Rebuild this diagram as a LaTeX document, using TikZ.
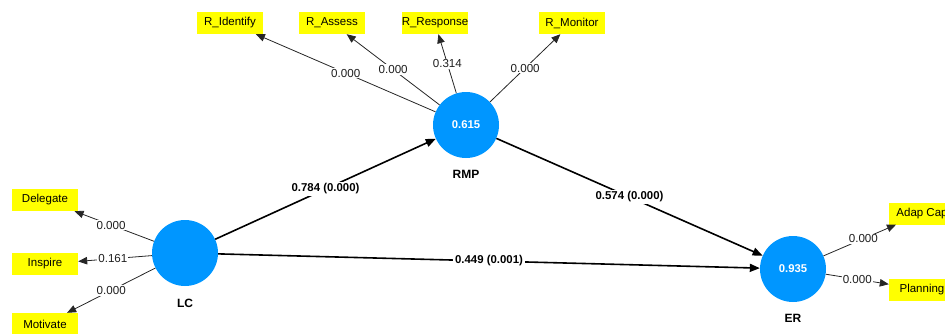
\documentclass[tikz,border=0pt]{standalone}
\usepackage{fontspec}
\setmainfont{Liberation Sans}
\usepackage{tikz}
\usetikzlibrary{positioning,arrows.meta}

\definecolor{lvblue}{RGB}{0,150,255}
\definecolor{mvyellow}{RGB}{255,255,0}
\definecolor{wttext}{RGB}{30,30,30}

\tikzset{
  lv/.style={circle, fill=lvblue, minimum size=66pt, inner sep=0pt, text=white,
    font=\fontsize{11.3}{13}\selectfont\bfseries},
  mv/.style={rectangle, fill=mvyellow, minimum width=66pt, minimum height=22pt,
    inner sep=0pt, font=\fontsize{11.5}{13}\selectfont},
  lvname/.style={inner sep=0pt, font=\fontsize{12}{14}\selectfont\bfseries},
  loadpath/.style={draw=black!85, line width=0.8pt, -{Triangle[length=9pt,width=7.5pt]}},
  structpath/.style={draw=black, line width=1.6pt, -{Triangle[length=10pt,width=8pt]}},
  wt/.style={fill=white, inner sep=1pt, text=wttext, font=\fontsize{11.6}{13}\selectfont},
  coef/.style={fill=white, inner sep=2pt, font=\fontsize{11.4}{13}\selectfont\bfseries},
}

\begin{document}
\begin{tikzpicture}[x=1pt, y=-1pt]
    \useasboundingbox (0,0) rectangle (945,333);
    \clip (0,0) rectangle (945,333);

    % constructs
    \node[lv] (rmp) at (466,125) {0.615};
    \node[lv] (lc) at (185,253) {};
    \node[lv] (er) at (793,269) {0.935};
    \node[lvname, below=12pt of rmp] (rmpname) {RMP};
    \node[lvname, below=13pt of lc] (lcname) {LC};
    \node[lvname, below=12pt of er] (ername) {ER};

    % indicators
    \node[mv] (ridentify) at (230,23) {R\_Identify};
    \node[mv] (rassess) at (332,23) {R\_Assess};
    \node[mv] (rresponse) at (435,23) {R\_Response};
    \node[mv] (rmonitor) at (572,23) {R\_Monitor};

    \node[mv] (delegate) at (45,200) {Delegate};
    \node[mv] (inspire) at (45,264) {Inspire};
    \node[mv] (motivate) at (45,324) {Motivate};

    \node[mv] (adapcap) at (922,213.5) {Adap Cap};
    \node[mv] (planning) at (922,289.5) {Planning};

    % outer weights
    \draw[loadpath] (rmp) -- node[wt] {0.000} (ridentify);
    \draw[loadpath] (rmp) -- node[wt] {0.000} (rassess);
    \draw[loadpath] (rmp) -- node[wt] {0.314} (rresponse);
    \draw[loadpath] (rmp) -- node[wt] {0.000} (rmonitor);

    \draw[loadpath] (lc) -- node[wt, pos=0.54] {0.000} (delegate);
    \draw[loadpath] (lc) -- node[wt, pos=0.53] {0.161} (inspire);
    \draw[loadpath] (lc) -- node[wt] {0.000} (motivate);

    \draw[loadpath] (er) -- node[wt, pos=0.55] {0.000} (adapcap);
    \draw[loadpath] (er) -- node[wt] {0.000} (planning);

    % inner model
    \draw[structpath] (lc) -- node[coef] {0.784 (0.000)} (rmp);
    \draw[structpath] (rmp) -- node[coef] {0.574 (0.000)} (er);
    \draw[structpath] (lc) -- node[coef] {0.449 (0.001)} (er);
\end{tikzpicture}
\end{document}
